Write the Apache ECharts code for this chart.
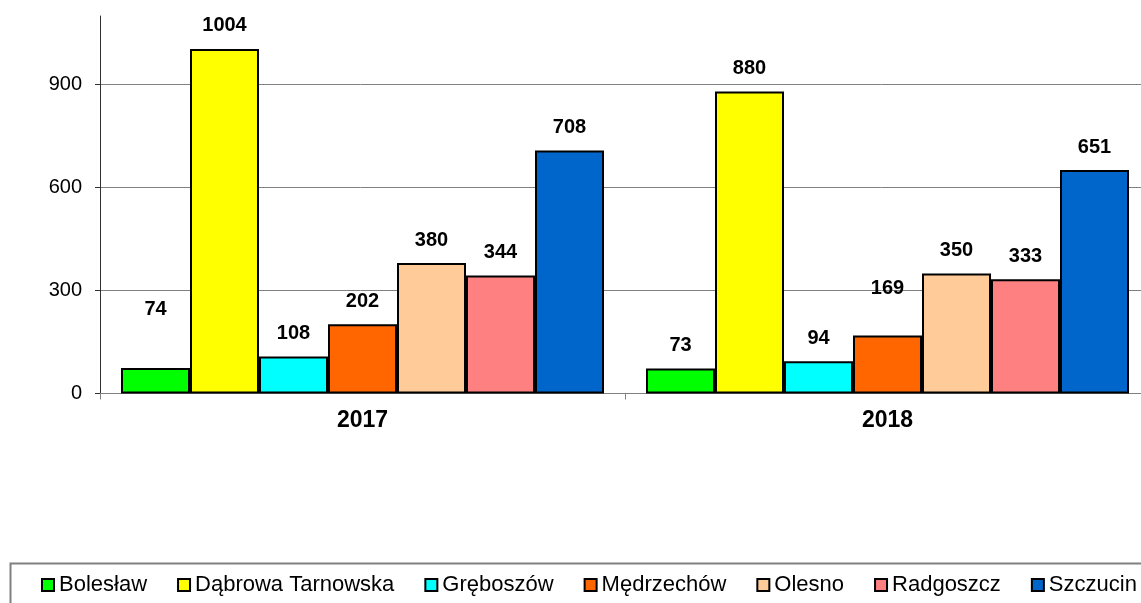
<!DOCTYPE html>
<html>
<head>
<meta charset="utf-8">
<script src="https://cdn.jsdelivr.net/npm/echarts@6/dist/echarts.min.js"></script>
<style>
    html, body { margin: 0; padding: 0; background: #fff; }
    #chart { width: 1141px; height: 603px; }
</style>
</head>
<body>
<div id="chart"></div>
<script>
    // dane
    var years = ['2017', '2018'];
    var gminy = ['Bolesław', 'Dąbrowa Tarnowska', 'Gręboszów', 'Mędrzechów', 'Olesno', 'Radgoszcz', 'Szczucin'];
    var boleslaw = [74, 73];
    var dabrowa = [1004, 880];
    var greboszow = [108, 94];
    var medrzechow = [202, 169];
    var olesno = [380, 350];
    var radgoszcz = [344, 333];
    var szczucin = [708, 651];
    var yTicks = [0, 300, 600, 900];

    var values = [boleslaw, dabrowa, greboszow, medrzechow, olesno, radgoszcz, szczucin];
    var colors = ['#00FF00', '#FFFF00', '#00FFFF', '#FF6600', '#FFCC99', '#FF8080', '#0066CC'];
    // kilka etykiet w oryginale siedzi wyżej niż reszta
    var labelLift = { '0-0': 36, '3-1': 24 };

    var fontName = '"Liberation Sans", Arial, sans-serif';

    var series = gminy.map(function (name, i) {
        return {
            name: name,
            type: 'bar',
            barGap: '0%',
            barCategoryGap: '8%',
            itemStyle: { color: colors[i], borderColor: '#000', borderWidth: 2 },
            label: {
                show: true,
                position: 'top',
                distance: 13,
                color: '#000',
                fontWeight: 'bold',
                fontSize: 20,
                fontFamily: fontName
            },
            data: values[i].map(function (v, j) {
                var lift = labelLift[i + '-' + j];
                if (lift) {
                    return { value: v, label: { offset: [0, -lift] } };
                }
                return v;
            })
        };
    });

    var myChart = echarts.init(document.getElementById('chart'));
    myChart.setOption({
        animation: false,
        textStyle: { fontFamily: fontName },
        grid: { left: 100, width: 1050, top: 16, height: 377.5, outerBoundsMode: 'none', containLabel: false },
        xAxis: {
            type: 'category',
            data: years,
            axisLine: { lineStyle: { color: '#808080', width: 1 } },
            axisTick: { show: true, length: 6, lineStyle: { color: '#808080' } },
            axisLabel: { color: '#000', fontWeight: 'bold', fontSize: 23, margin: 16, fontFamily: fontName }
        },
        yAxis: {
            type: 'value',
            min: 0,
            max: 1100,
            interval: 300,
            axisLine: { show: true, lineStyle: { color: '#303030', width: 1 } },
            axisTick: { show: true, length: 5, customValues: yTicks, lineStyle: { color: '#303030' } },
            axisLabel: { color: '#000', fontSize: 20, margin: 18, customValues: yTicks, fontFamily: fontName },
            splitLine: {
                show: true,
                lineStyle: { color: ['#808080', '#808080', '#808080', '#808080', 'rgba(0,0,0,0)'], width: 1 }
            }
        },
        legend: {
            left: 41,
            top: 574,
            width: 1160,
            padding: 0,
            itemWidth: 12,
            itemHeight: 12,
            itemGap: 30,
            icon: 'rect',
            itemStyle: { borderWidth: 2, borderColor: '#000' },
            textStyle: { color: '#000', fontSize: 22, fontFamily: fontName },
            data: gminy
        },
        graphic: [{
            type: 'rect',
            left: 8,
            top: 561,
            shape: { width: 1160, height: 60 },
            style: { fill: 'none', stroke: '#808080', lineWidth: 2 },
            silent: true
        }],
        series: series
    });
</script>
</body>
</html>
